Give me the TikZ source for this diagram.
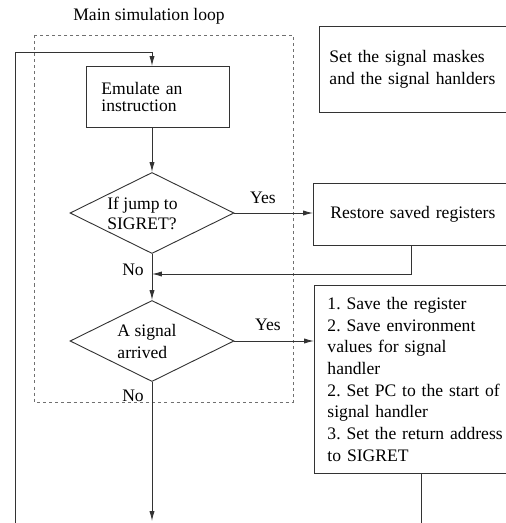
\documentclass[tikz,border=0pt]{standalone}
\usepackage{fontspec}
\setmainfont{Liberation Serif}
\usetikzlibrary{positioning, shapes.geometric, arrows.meta, calc}
\definecolor{ln}{HTML}{333333}
\definecolor{dsh}{HTML}{707070}
\frenchspacing

\begin{document}
\begin{tikzpicture}[x=0.66pt, y=-0.66pt,
          every node/.style={font=\fontsize{11.6}{14.3}\selectfont},
          box/.style={draw=ln, line width=0.6pt, rectangle, align=left, inner ysep=0pt, anchor=north west},
          dia/.style={draw=ln, line width=0.6pt, diamond, inner sep=0pt, minimum width=108.2pt, minimum height=53.5pt},
          lbl/.style={align=left, inner sep=0pt},
          arr/.style={draw=ln, line width=0.6pt, -{Latex[length=6.5pt, width=3.4pt]}},
          wire/.style={draw=ln, line width=0.6pt}]
        \useasboundingbox (0,0) rectangle (506,523);
        \clip (0,0) rectangle (506,523);
        \draw[dsh, line width=0.6pt, dash pattern=on 2pt off 2pt] (34.5,35) rectangle (293,402);
        \node[lbl] (title) at (149,16) {Main simulation loop};
        \node[box, text width=74.6pt, inner xsep=9.9pt, minimum height=40.3pt,
              font=\fontsize{11.6}{10.6}\selectfont] (emu) at (86,66) {Emulate an\\instruction};
        \node[box, text width=140pt, inner xsep=6.6pt, minimum height=56.8pt] (mask) at (319,26)
              {Set the signal maskes\\and the signal hanlders};
        \node[dia] (jump) at (152,213) {};
        \node[lbl, font=\fontsize{11.6}{13.2}\selectfont] (jumptxt) at ($(jump)+(-9.5,0)$) {If jump to\\SIGRET?};
        \node[dia] (sig) at (152,341) {};
        \node[lbl, font=\fontsize{11.6}{14.5}\selectfont] (sigtxt) at ($(sig)+(-5,0)$) {A signal\\arrived};
        \node[box, text width=140pt, inner xsep=11.2pt, minimum height=40.9pt] (restore) at (313,183)
              {Restore saved registers};
        \node[box, text width=150pt, inner xsep=8.6pt, minimum height=124.1pt] (save) at (314,285)
              {1. Save the register\\2. Save environment\\values for signal\\handler\\2. Set PC to the start of\\signal handler\\3. Set the return address\\to SIGRET};
        \node[lbl] (yes1) at (263,198) {Yes};
        \node[lbl] (yes2) at (268,325) {Yes};
        \node[lbl] (no1) at (133,270) {No};
        \node[lbl] (no2) at (133,396) {No};
        \coordinate (merge) at (152,274);
        \coordinate (back) at (15,523);
        \coordinate (exit) at (152,521);
        \coordinate (saveout) at (421,523);
        \draw[arr] (jump.north |- emu.south) -- (jump.north);
        \draw[arr] (jump.east) -- (jump.east -| restore.west);
        \draw[arr] (jump.south) -- (sig.north);
        \draw[arr] ($(restore.south west)+(98,0)$) |- (merge);
        \draw[arr] (sig.east) -- (sig.east -| save.west);
        \draw[arr] (sig.south) -- (exit);
        \draw[wire] ($(save.south west)+(107,0)$) -- (saveout);
        \draw[arr] (back) |- ($(jump.north |- emu.north)+(0,-14)$) -- (jump.north |- emu.north);
      \end{tikzpicture}
\end{document}
